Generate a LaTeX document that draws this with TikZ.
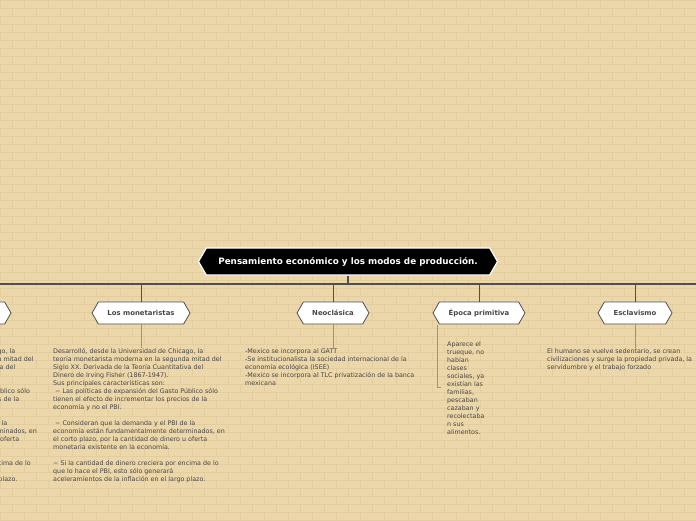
\documentclass[tikz,border=0pt]{standalone}
\usepackage{fontspec}
\setmainfont{DejaVu Sans}
\usetikzlibrary{shapes.symbols}

\definecolor{paper}{HTML}{ECD7AB}
\definecolor{brick}{HTML}{E3CD9F}
\definecolor{ink}{HTML}{474747}
\definecolor{rule}{HTML}{4F4F4F}
\definecolor{twig}{HTML}{9C9382}

\newcommand{\monotext}{Desarrolló, desde la Universidad de Chicago, la\\
teoría monetarista moderna en la segunda mitad del\\
Siglo XX. Derivada de la Teoría Cuantitativa del\\
Dinero de Irving Fisher (1867-1947).\\
Sus principales características son:\\
\ − Las políticas de expansión del Gasto Público sólo\\
tienen el efecto de incrementar los precios de la\\
economía y no el PBI.\\[8pt]
\ − Consideran que la demanda y el PBI de la\\
economía están fundamentalmente determinados, en\\
el corto plazo, por la cantidad de dinero u oferta\\
monetaria existente en la economía.\\[8pt]
− Si la cantidad de dinero creciera por encima de lo\\
que lo hace el PBI, esto sólo generará\\
aceleramientos de la inflación en el largo plazo.}

\begin{document}
\begin{tikzpicture}[x=1pt,y=-1pt,
    root/.style={signal, signal to=west and east, signal pointer angle=120, draw=white, line width=1.2pt, fill=black, text=white, font=\fontsize{8.8}{10}\selectfont\bfseries, minimum height=27pt, minimum width=299pt, inner xsep=4pt},
    topic/.style={signal, signal to=west and east, signal pointer angle=120, draw=rule, line width=0.8pt, fill=white, text=ink, font=\fontsize{6.9}{8}\selectfont\bfseries, minimum height=22pt, inner xsep=4pt},
    note/.style={anchor=north west, align=left, inner sep=0pt, text=ink, font=\fontsize{6.35}{8}\selectfont},
    bar/.style={draw=rule, line width=1.6pt},
    lnk/.style={draw=rule, line width=1pt},
    twg/.style={draw=twig, line width=0.8pt}
]
\useasboundingbox (0,0) rectangle (696,520);
\clip (0,0) rectangle (696,520);
\fill[paper] (0,0) rectangle (696,520);
\foreach \r in {0,...,65}{
  \pgfmathsetmacro\off{mod(\r,2)*12}
  \draw[brick, line width=0.4pt] (0,\r*8) -- (696,\r*8);
  \draw[brick, line width=0.4pt] foreach \c in {-1,...,29} {(\off+\c*24,\r*8) -- ++(0,8)};
}

\node[root] (main) at (348,261.5) {Pensamiento económico y los modos de producción.};
\coordinate (barL) at (0,284);
\coordinate (barR) at (696,284);

\node[topic, minimum width=118pt] (prev) at (-48,313) {};
\node[topic, minimum width=98pt] (mon) at (141,313) {Los monetaristas};
\node[topic, minimum width=72pt] (neo) at (333,313) {Neoclásica};
\node[topic, minimum width=92pt] (epo) at (479,313) {Época primitiva};
\node[topic, minimum width=74pt] (esc) at (635,313) {Esclavismo};

\node[note] (prevT) at (-135,348) {\monotext};
\node[note] (monT) at (53,348) {\monotext};
\node[note] (neoT) at (245,348) {-Mexico se incorpora al GATT\\
-Se institucionalista la sociedad internacional de la\\
economía ecológica (ISEE)\\
-Mexico se incorpora al TLC privatización de la banca\\
mexicana};
\node[note] (epoT) at (447,341) {Aparece el\\ trueque, no\\ habían\\ clases\\ sociales, ya\\ existían las\\ familias,\\ pescaban\\ cazaban y\\ recolectaba\\ n sus\\ alimentos.};
\node[note] (escT) at (547,348) {El humano se vuelve sedentario, se crean\\
civilizaciones y surge la propiedad privada, la\\
servidumbre y el trabajo forzado};
\coordinate (epoJ) at (437,325);

\draw[bar] (barL) -- (barR);
\draw[bar] (main.south) -- (main.south |- barL);
\foreach \n in {prev,mon,neo,epo,esc}
  \draw[lnk] (\n.north |- barL) -- (\n.north);
\draw[twg] (mon.south) -- (mon.south |- monT.north);
\draw[twg] (neo.south) -- (neo.south |- neoT.north);
\draw[twg] (esc.south) -- (esc.south |- escT.north);
\draw[twg] (epoJ) |- ([xshift=-6pt]epoT.west);
\end{tikzpicture}
\end{document}
